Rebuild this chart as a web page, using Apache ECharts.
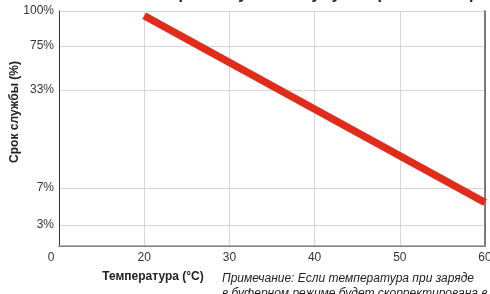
<!DOCTYPE html>
<html>
<head>
<meta charset="utf-8">
<script src="https://cdn.jsdelivr.net/npm/echarts@6/dist/echarts.min.js"></script>
<style>
  html, body { margin: 0; padding: 0; background: #fff; }
  #chart { width: 490px; height: 294px; }
</style>
</head>
<body>
<div id="chart"></div>
<script>
// данные графика
var tempC = [20, 60];              // температура, °C
var lifePos = [98, 18.5];          // срок службы (положение на шкале 0..100)
var yTickPos = [8.9, 24.7, 66.4, 85.1, 100];
var yTickLabels = ['3%', '7%', '33%', '75%', '100%'];
var xMin = 10, xMax = 60, xStep = 10;

var FONT = '"Liberation Sans", Arial, sans-serif';

var chartDom = document.getElementById('chart');
var myChart = echarts.init(chartDom, null, { renderer: 'canvas' });

var option = {
  animation: false,
  backgroundColor: '#fff',
  grid: { left: 59, top: 11, right: 5, bottom: 48, outerBoundsMode: 'none' },
  xAxis: [{
    type: 'value',
    min: xMin,
    max: xMax,
    interval: xStep,
    axisLine: { show: true, lineStyle: { color: '#333', width: 1 } },
    axisTick: { show: false },
    axisLabel: {
      margin: 6,
      fontFamily: FONT,
      fontSize: 12,
      color: '#333',
      formatter: function (v) {
        // начало шкалы подписано как «0»
        return v === xMin ? '{o|0}' : String(v);
      },
      rich: { o: { padding: [0, 16, 0, 0], fontFamily: FONT, fontSize: 12, color: '#333' } }
    },
    splitLine: { show: true, lineStyle: { color: '#d6d6d6', width: 1 } }
  }, {
    type: 'value',
    position: 'top',
    min: xMin,
    max: xMax,
    axisLine: { show: true, lineStyle: { color: '#9a9a9a', width: 1.5 } },
    axisTick: { show: false },
    axisLabel: { show: false },
    splitLine: { show: false }
  }],
  yAxis: [{
    type: 'value',
    min: 0,
    max: 100,
    axisLine: { show: true, lineStyle: { color: '#333', width: 1 } },
    axisTick: { show: false, customValues: yTickPos },
    axisLabel: {
      margin: 5,
      fontFamily: FONT,
      fontSize: 12,
      color: '#333',
      customValues: yTickPos,
      formatter: function (v) {
        var i = yTickPos.indexOf(v);
        return i >= 0 ? yTickLabels[i] : '';
      }
    },
    splitLine: { show: true, lineStyle: { color: '#d6d6d6', width: 1 } }
  }, {
    type: 'value',
    position: 'right',
    min: 0,
    max: 100,
    axisLine: { show: true, lineStyle: { color: '#555', width: 1.5 } },
    axisTick: { show: false },
    axisLabel: { show: false },
    splitLine: { show: false }
  }],
  series: [{
    type: 'line',
    xAxisIndex: 0,
    yAxisIndex: 0,
    data: tempC.map(function (t, i) { return [t, lifePos[i]]; }),
    symbol: 'none',
    clip: false,
    lineStyle: { color: '#e02d1b', width: 7.5 },
    z: 5
  }],
  graphic: [
    {
      type: 'text', left: 60, top: -13, silent: true,
      style: {
        text: 'Зависимость срока службы аккумулятора от температуры',
        fontFamily: FONT, fontSize: 16, fontWeight: 'bold', fill: '#222'
      }
    },
    {
      type: 'text', x: 15, y: 112, rotation: Math.PI / 2, silent: true,
      style: {
        text: 'Срок службы (%)',
        fontFamily: FONT, fontSize: 12, fontWeight: 'bold', fill: '#222',
        align: 'center', verticalAlign: 'middle'
      }
    },
    {
      type: 'text', x: 153, y: 277, silent: true,
      style: {
        text: 'Температура (°C)',
        fontFamily: FONT, fontSize: 12, fontWeight: 'bold', fill: '#222',
        align: 'center', verticalAlign: 'middle'
      }
    },
    {
      type: 'text', x: 222, y: 271, silent: true,
      style: {
        text: 'Примечание: Если температура при заряде\nв буферном режиме будет скорректирована в',
        fontFamily: FONT, fontSize: 12, fontStyle: 'italic', fill: '#222',
        lineHeight: 15
      }
    }
  ]
};

myChart.setOption(option);
</script>
</body>
</html>
